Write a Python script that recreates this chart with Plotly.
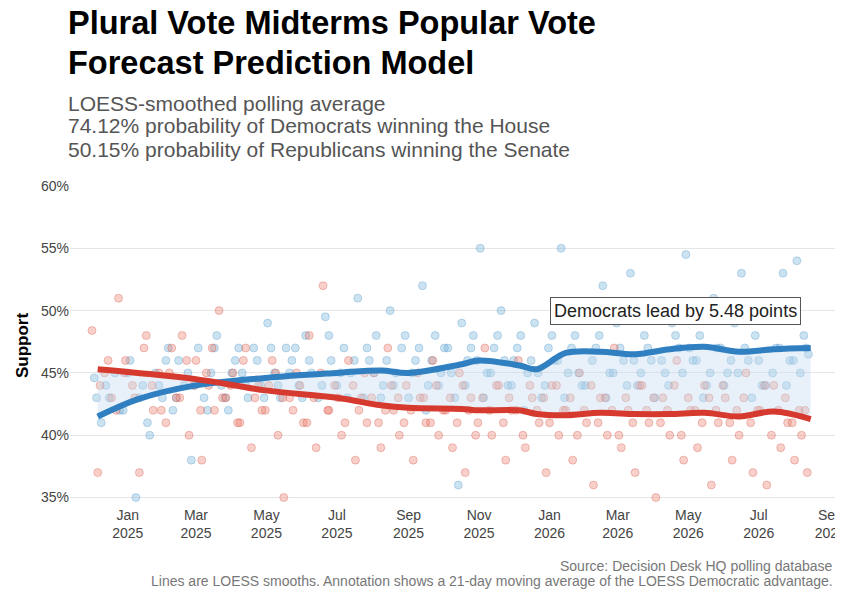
import pandas as pd
import plotly.graph_objects as go

start = pd.Timestamp("2024-12-01")

# Democratic polls (days after 2024-12-01, support %)
dem_day = [2, 8, 15, 20, 27, 33, 38, 44, 50, 55,
           61, 66, 70, 75, 80, 86, 92, 97, 103, 108,
           112, 118, 124, 130, 135, 140, 146, 152, 158, 163,
           168, 173, 179, 185, 190, 196, 202, 207, 212, 218,
           224, 230, 235, 240, 246, 252, 258, 263, 268, 274,
           280, 286, 291, 297, 302, 308, 314, 320, 325, 330,
           336, 342, 348, 354, 360, 365, 371, 377, 383, 389,
           395, 400, 406, 412, 418, 424, 430, 436, 442, 448,
           454, 460, 466, 472, 478, 484, 490, 496, 502, 508,
           514, 520, 526, 532, 538, 544, 550, 556, 562, 568,
           574, 580, 586, 592, 598, 604, 610, 616, 620]
dem_val = [44.6, 41, 43, 45, 42, 46, 35, 44, 40, 45,
           43, 47, 42, 46, 44, 38, 47, 43, 45, 48,
           44, 42, 46, 45, 43, 47, 44, 49, 45, 43,
           47, 46, 44, 48, 45, 43, 49.5, 46, 44, 47,
           45, 51, 43, 46, 48, 44, 50, 45, 47, 43,
           46, 52, 44, 48, 45, 47, 43, 49, 46, 48,
           55, 45, 47, 50, 44, 46, 48, 45, 49, 43,
           47, 46, 55, 45, 48, 44, 50, 47, 52, 45,
           49, 46, 53, 44, 48, 46, 50, 45, 49, 47,
           54.5, 46, 48, 44, 51, 47, 45, 49, 53, 46,
           48, 44, 50, 47, 53, 46, 54, 48, 46.5]
dem_day_b = [4, 12, 24, 31, 41, 48, 58, 64, 73, 83,
             89, 100, 106, 115, 121, 127, 133, 143, 149, 155,
             161, 171, 176, 182, 188, 199, 205, 215, 221, 227,
             238, 244, 250, 255, 261, 271, 277, 283, 289, 294,
             300, 305, 311, 317, 323, 328, 333, 339, 345, 351,
             357, 363, 368, 374, 380, 386, 392, 398, 403, 409,
             415, 421, 427, 433, 439, 445, 451, 457, 463, 469,
             475, 481, 487, 493, 499, 505, 511, 517, 523, 529,
             535, 541, 547, 553, 559, 565, 571, 577, 583, 589,
             595, 601, 607, 613, 618]
dem_val_b = [43, 44, 42, 45, 43, 41, 44, 46, 43, 45,
             44, 42, 47, 43, 45, 47, 44, 46, 43, 47,
             44, 45, 47, 43, 46, 44, 48, 45, 43, 46,
             47, 45, 43, 46, 44, 48, 45, 47, 42, 46,
             44, 47, 45, 36, 44, 47, 46, 43, 45, 48,
             46, 44, 47, 42, 46, 45, 44, 48, 46, 43,
             47, 45, 44, 46, 48, 43, 45, 47, 44, 46,
             45, 47, 43, 46, 44, 48, 45, 47, 46, 43,
             45, 47, 44, 46, 45, 47, 43, 46, 44, 45,
             47, 44, 46, 45, 47]

# Republican polls
rep_day = [0, 5, 11, 17, 23, 29, 35, 41, 47, 53,
           58, 64, 69, 73, 78, 84, 90, 95, 101, 106,
           110, 116, 122, 128, 133, 138, 144, 150, 156, 161,
           166, 171, 177, 183, 188, 194, 200, 205, 210, 216,
           222, 228, 233, 238, 244, 250, 256, 261, 266, 272,
           278, 284, 289, 295, 300, 306, 312, 318, 323, 328,
           334, 340, 346, 352, 358, 363, 369, 375, 381, 387,
           393, 398, 404, 410, 416, 422, 428, 434, 440, 446,
           452, 458, 464, 470, 476, 482, 488, 494, 500, 506,
           512, 518, 524, 530, 536, 542, 548, 554, 560, 566,
           572, 578, 584, 590, 596, 602, 608, 614, 619]
rep_val = [48.4, 37, 45, 43, 51, 46, 44, 37, 48, 42,
           45, 41, 47, 43, 48, 40, 46, 38, 44, 42,
           50, 43, 45, 41, 47, 39, 44, 42, 46, 40,
           35, 43, 45, 41, 48, 39, 52, 42, 44, 40,
           46, 38, 43, 41, 45, 39, 47, 42, 40, 44,
           38, 43, 41, 46, 40, 42, 39, 45, 37, 43,
           41, 47, 40, 44, 38, 42, 46, 39, 43, 41,
           37, 44, 40, 42, 38, 45, 41, 36, 43, 40,
           47, 39, 42, 37, 44, 41, 35, 43, 40, 46,
           38, 42, 39, 44, 36, 41, 43, 38, 40, 45,
           37, 42, 36, 44, 39, 41, 38, 40, 37]
rep_day_b = [7, 14, 21, 28, 37, 45, 52, 60, 67, 76,
             82, 88, 94, 99, 104, 113, 120, 126, 131, 141,
             147, 153, 159, 165, 174, 180, 186, 192, 198, 204,
             213, 219, 226, 231, 236, 242, 248, 254, 259, 265,
             270, 276, 282, 287, 293, 298, 304, 310, 316, 321,
             326, 332, 338, 344, 350, 356, 361, 367, 373, 379,
             385, 391, 396, 402, 408, 414, 420, 426, 432, 438,
             444, 450, 456, 462, 468, 474, 480, 486, 492, 498,
             504, 510, 516, 522, 528, 534, 540, 546, 552, 558,
             564, 570, 576, 582, 588, 594, 600, 606, 612, 617]
rep_val_b = [44, 46, 42, 45, 43, 47, 44, 42, 45, 43,
             46, 44, 42, 45, 47, 43, 44, 41, 46, 43,
             42, 44, 45, 43, 42, 44, 41, 43, 45, 42,
             43, 41, 44, 42, 45, 43, 41, 42, 44, 43,
             41, 42, 45, 43, 41, 44, 42, 43, 41, 44,
             42, 40, 43, 42, 44, 41, 43, 42, 40, 44,
             42, 43, 41, 44, 42, 43, 40, 42, 44, 41,
             43, 42, 40, 43, 41, 44, 42, 43, 41, 42,
             44, 40, 43, 42, 41, 43, 42, 44, 41, 42,
             43, 41, 42, 44, 40, 42, 43, 41, 42, 42]

dem_trend_day = [5, 40, 90, 150, 212, 250, 274, 320, 335, 370, 385, 410, 440, 470, 500, 530, 560, 590, 622]
dem_trend_val = [41.5, 42.9, 44.0, 44.6, 45.0, 45.2, 45.0, 45.7, 46.0, 45.6, 45.3, 46.6, 46.7, 46.5, 46.9, 47.1, 46.7, 46.9, 47.0]
rep_trend_day = [5, 40, 90, 150, 212, 250, 274, 320, 335, 370, 385, 410, 440, 470, 500, 530, 560, 590, 622]
rep_trend_val = [45.3, 45.0, 44.5, 43.6, 43.0, 42.4, 42.2, 42.1, 42.0, 42.0, 41.7, 41.6, 41.8, 41.7, 41.7, 41.8, 41.5, 41.9, 41.3]

tick_dates = ["2025-01-01", "2025-03-01", "2025-05-01", "2025-07-01", "2025-09-01",
              "2025-11-01", "2026-01-01", "2026-03-01", "2026-05-01", "2026-07-01", "2026-09-01"]
tick_text = ["Jan<br>2025", "Mar<br>2025", "May<br>2025", "Jul<br>2025", "Sep<br>2025",
             "Nov<br>2025", "Jan<br>2026", "Mar<br>2026", "May<br>2026", "Jul<br>2026", "Sep<br>2026"]


def to_dates(days):
    return [start + pd.Timedelta(days=d) for d in days]


BLUE = "#2f7fc1"
RED = "#d63a2f"
font = "Liberation Sans"
dem_marker = dict(color="rgba(107,174,214,0.35)", size=8, line=dict(color="rgba(70,140,200,0.3)", width=1))
rep_marker = dict(color="rgba(239,120,100,0.35)", size=8, line=dict(color="rgba(200,70,60,0.3)", width=1))

fig = go.Figure()
fig.add_trace(go.Scatter(x=to_dates(dem_day + dem_day_b), y=dem_val + dem_val_b,
                         mode="markers", marker=dem_marker))
fig.add_trace(go.Scatter(x=to_dates(rep_day + rep_day_b), y=rep_val + rep_val_b,
                         mode="markers", marker=rep_marker))
fig.add_trace(go.Scatter(x=to_dates(rep_trend_day), y=rep_trend_val, mode="lines",
                         line=dict(color="rgba(0,0,0,0)", shape="spline")))
fig.add_trace(go.Scatter(x=to_dates(dem_trend_day), y=dem_trend_val, mode="lines",
                         fill="tonexty", fillcolor="rgba(198,219,239,0.4)",
                         line=dict(color=BLUE, width=6, shape="spline")))
fig.add_trace(go.Scatter(x=to_dates(rep_trend_day), y=rep_trend_val, mode="lines",
                         line=dict(color=RED, width=6, shape="spline")))

fig.add_annotation(x=start + pd.Timedelta(days=505), y=50,
                   text="Democrats lead by 5.48 points", showarrow=False,
                   bgcolor="white", bordercolor="#555", borderwidth=1, borderpad=3,
                   font=dict(size=18, color="#222", family=font))

# page is offset by the 8px body margin, so pixel targets are shifted by 8
PLOT_TOP, PLOT_BOTTOM = 178, 497


def text_line(y_px, text, size, color, xanchor="left", x=-0.005):
    y = (PLOT_BOTTOM - (y_px - 8)) / (PLOT_BOTTOM - PLOT_TOP)
    fig.add_annotation(xref="paper", yref="paper", x=x, y=y,
                       xanchor=xanchor, yanchor="middle", showarrow=False,
                       text=text, font=dict(size=size, color=color, family=font))


text_line(23, "<b>Plural Vote Midterms Popular Vote</b>", 32.5, "black")
text_line(63, "<b>Forecast Prediction Model</b>", 32.5, "black")
text_line(103, "LOESS-smoothed polling average", 21, "#555")
text_line(126, "74.12% probability of Democrats winning the House", 21, "#555")
text_line(149, "50.15% probability of Republicans winning the Senate", 21, "#555")
text_line(566, "Source: Decision Desk HQ polling database", 14, "#777", "right", 1)
text_line(581, "Lines are LOESS smooths. Annotation shows a 21-day moving average "
               "of the LOESS Democratic advantage.", 14, "#777", "right", 1)

fig.update_xaxes(range=["2024-11-12", "2026-09-05"], tickvals=tick_dates, ticktext=tick_text,
                 showgrid=False, zeroline=False, automargin=False,
                 tickfont=dict(size=14, color="#444"))
fig.update_yaxes(range=[34.4, 60], tickvals=[35, 40, 45, 50, 55, 60],
                 ticktext=["35%", "40%", "45%", "50%", "55%", "60%"], automargin=False,
                 gridcolor="#e6e6e6", zeroline=False, tickfont=dict(size=14, color="#444"),
                 title=dict(text="<b>Support</b>", font=dict(size=17, color="black"), standoff=8))
fig.update_layout(width=843, height=600, showlegend=False,
                  plot_bgcolor="white", paper_bgcolor="white",
                  font=dict(family=font),
                  margin=dict(l=62, r=16, t=PLOT_TOP, b=600 - PLOT_BOTTOM))
fig.write_html("out.html")
